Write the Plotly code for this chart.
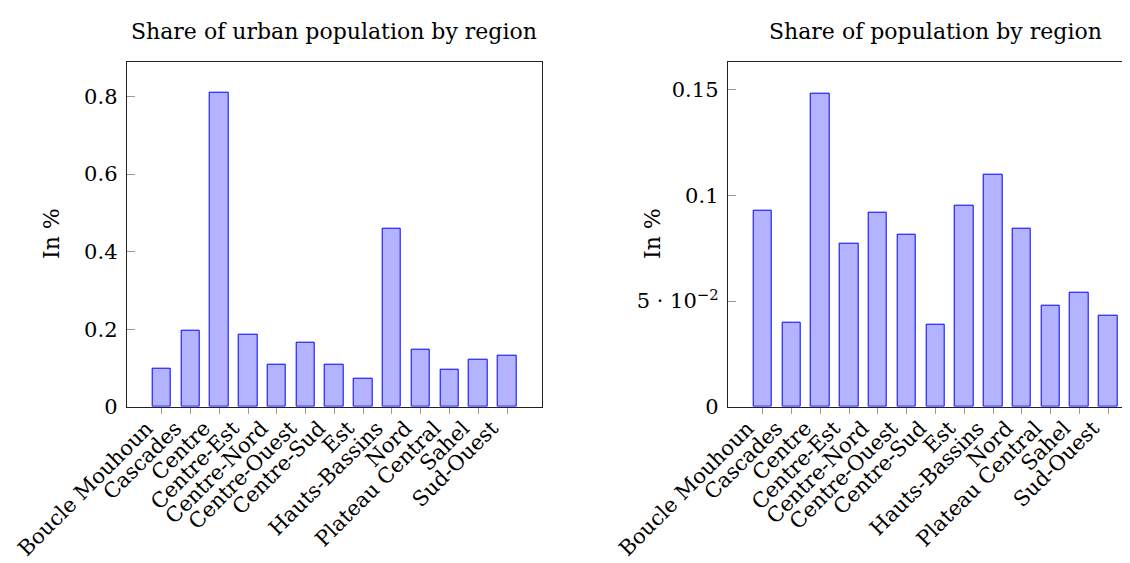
import plotly.graph_objects as go

regions = ["Boucle Mouhoun", "Cascades", "Centre", "Centre-Est", "Centre-Nord",
           "Centre-Ouest", "Centre-Sud", "Est", "Hauts-Bassins", "Nord",
           "Plateau Central", "Sahel", "Sud-Ouest"]
urban_share = [0.097, 0.195, 0.809, 0.187, 0.109, 0.165, 0.109, 0.073, 0.458,
               0.148, 0.096, 0.120, 0.132]
pop_share = [0.0929, 0.0399, 0.1483, 0.0773, 0.0918, 0.0814, 0.0388, 0.0951,
             0.1096, 0.0844, 0.0480, 0.0537, 0.0431]

left_ticks = [0, 0.2, 0.4, 0.6, 0.8]
left_ticktext = ["0", "0.2", "0.4", "0.6", "0.8"]
right_ticks = [0, 0.05, 0.1, 0.15]
right_ticktext = ["0", "5 · 10<sup>−2</sup>", "0.1", "0.15"]

OFF = 8  # page body margin
W, H = 1130 - OFF, 563 - OFF
FONT = "DejaVu Serif"
FILL = "rgb(179,179,255)"
EDGE = "rgb(0,0,255)"


def px(x):
    return (x - OFF) / W


def py(y):
    return (H - (y - OFF)) / H


fig = go.Figure()
fig.add_trace(go.Bar(x=list(range(len(regions))), y=urban_share, width=0.64,
                     marker=dict(color=FILL, line=dict(color=EDGE, width=1)),
                     xaxis="x", yaxis="y", showlegend=False))
fig.add_trace(go.Bar(x=list(range(len(regions))), y=pop_share, width=0.64,
                     marker=dict(color=FILL, line=dict(color=EDGE, width=1)),
                     xaxis="x2", yaxis="y2", showlegend=False))

ydom = [py(406.7), py(61.7)]
common_x = dict(tickmode="array", tickvals=list(range(len(regions))), ticktext=regions,
                tickangle=-45, ticks="outside", ticklen=6, tickcolor="#999999",
                showgrid=False, zeroline=False, showline=True, linecolor="#222222",
                linewidth=1, automargin=False, ticklabelshift=-15, ticklabelstandoff=-6,
                tickfont=dict(family=FONT, size=21, color="black"))
common_y = dict(ticks="inside", ticklen=8, tickcolor="#999999", showgrid=False,
                zeroline=False, showline=True, linecolor="#222222", linewidth=1,
                automargin=False, ticklabelstandoff=4,
                tickfont=dict(family=FONT, size=21, color="black"))

fig.update_layout(
    width=W, height=H, margin=dict(l=0, r=0, t=0, b=0),
    plot_bgcolor="white", paper_bgcolor="white",
    xaxis=dict(domain=[px(126.7), px(541.7)], range=[-1.215, 13.205], mirror=True,
               anchor="y", **common_x),
    yaxis=dict(domain=ydom, range=[0, 0.89], tickmode="array", tickvals=left_ticks,
               ticktext=left_ticktext, mirror=True, anchor="x", **common_y),
    xaxis2=dict(domain=[px(727.7), 1.0], range=[-1.215, -1.215 + (1130 - 727.7) / 28.79],
                mirror=True, anchor="y2", **common_x),
    yaxis2=dict(domain=ydom, range=[0, 0.1632], tickmode="array", tickvals=right_ticks,
                ticktext=right_ticktext, mirror=False, anchor="x2", **common_y),
    bargap=0,
)

ann_font = dict(family=FONT, size=22, color="black")
fig.add_annotation(text="Share of urban population by region", x=px(334), y=py(31),
                   xref="paper", yref="paper", showarrow=False, font=ann_font,
                   xanchor="center", yanchor="middle")
fig.add_annotation(text="Share of population by region", x=px(935), y=py(31),
                   xref="paper", yref="paper", showarrow=False, font=ann_font,
                   xanchor="center", yanchor="middle")
fig.add_annotation(text="In %", x=px(52), y=py(234), xref="paper", yref="paper",
                   showarrow=False, textangle=-90, font=dict(family=FONT, size=22, color="black"),
                   xanchor="center", yanchor="middle")
fig.add_annotation(text="In %", x=px(653), y=py(234), xref="paper", yref="paper",
                   showarrow=False, textangle=-90, font=dict(family=FONT, size=22, color="black"),
                   xanchor="center", yanchor="middle")

fig.write_html("out.html")
